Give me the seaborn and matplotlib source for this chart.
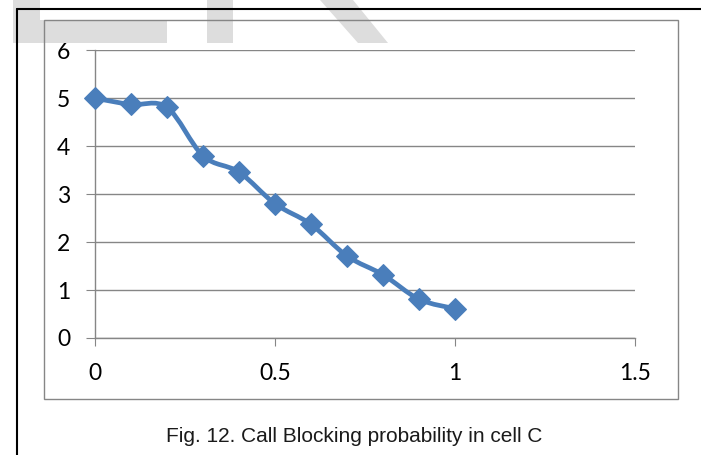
import matplotlib
matplotlib.use("Agg")
import matplotlib.pyplot as plt
import seaborn as sns
import pandas as pd
from matplotlib.patches import Polygon, Rectangle, PathPatch
from matplotlib.lines import Line2D
from matplotlib.path import Path

# Offered traffic load and measured call blocking probability (cell C)
traffic_load = [0.0, 0.1, 0.2, 0.3, 0.4, 0.5, 0.6, 0.7, 0.8, 0.9, 1.0]
blocking = [5.0, 4.87, 4.81, 3.80, 3.46, 2.80, 2.37, 1.71, 1.32, 0.81, 0.61]

x_ticks = [0, 0.5, 1, 1.5]
x_tick_labels = ["0", "0.5", "1", "1.5"]
y_ticks = [0, 1, 2, 3, 4, 5, 6]
y_tick_labels = ["0", "1", "2", "3", "4", "5", "6"]
caption = "Fig. 12. Call Blocking probability in cell C"

W, H = 701, 455
LINE_BLUE = "#4A7EBB"
GRID_GRAY = "#868686"

sns.set_theme(style="white")
plt.rcParams["font.family"] = ["Lato", "DejaVu Sans"]

fig = plt.figure(figsize=(W / 100, H / 100), dpi=100)
fig.patch.set_facecolor("white")


def fx(x):
    return x / W


def fy(y):
    return 1 - y / H


# light grey letterforms along the top edge of the page
wm = "#DDDDDD"
for pts in [
    [(13.3, 0), (40, 0), (40, 20), (167, 20), (167, 43), (13.3, 43)],
    [(206.7, 0), (233, 0), (233, 43), (206.7, 43)],
    [(320, 0), (353, 0), (388, 43), (358, 43)],
]:
    fig.patches.append(Polygon([(fx(a), fy(b)) for a, b in pts], closed=True,
                               facecolor=wm, edgecolor="none",
                               transform=fig.transFigure, zorder=0))

# page frame (top and left edges)
fig.add_artist(Line2D([fx(16.5), fx(16.5)], [0, fy(9)], color="black", lw=1.5,
                      transform=fig.transFigure, zorder=1))
fig.add_artist(Line2D([fx(16.5), 1.0], [fy(9), fy(9)], color="black", lw=1.5,
                      transform=fig.transFigure, zorder=1))

# chart area border
fig.patches.append(Rectangle((fx(43.7), fy(399)), fx(678) - fx(43.7), fy(20) - fy(399),
                             fill=False, edgecolor=GRID_GRAY, lw=1.0,
                             transform=fig.transFigure, zorder=1))

ax = fig.add_axes([fx(95), fy(338), fx(635) - fx(95), fy(50.3) - fy(338)])
ax.set_facecolor("none")


def smooth_path(xs, ys, k=1 / 6):
    """Cubic Bezier path through the points, spreadsheet-style smoothing."""
    pts = list(zip(xs, ys))
    n = len(pts)
    verts = [pts[0]]
    codes = [Path.MOVETO]
    for i in range(n - 1):
        p0 = pts[i - 1] if i > 0 else pts[i]
        p1 = pts[i]
        p2 = pts[i + 1]
        p3 = pts[i + 2] if i + 2 < n else pts[i + 1]
        c1 = (p1[0] + (p2[0] - p0[0]) * k, p1[1] + (p2[1] - p0[1]) * k)
        c2 = (p2[0] - (p3[0] - p1[0]) * k, p2[1] - (p3[1] - p1[1]) * k)
        verts += [c1, c2, p2]
        codes += [Path.CURVE4] * 3
    return Path(verts, codes)


ax.add_patch(PathPatch(smooth_path(traffic_load, blocking), fill=False,
                       edgecolor=LINE_BLUE, lw=3.4, joinstyle="round",
                       capstyle="round", clip_on=False, zorder=4))

df = pd.DataFrame({"load": traffic_load, "blocking": blocking})
sns.lineplot(data=df, x="load", y="blocking", ax=ax, color=LINE_BLUE,
             linewidth=0, marker="D", markersize=11.5,
             markerfacecolor=LINE_BLUE, markeredgecolor=LINE_BLUE,
             clip_on=False, zorder=5)

ax.set_xlim(0, 1.5)
ax.set_ylim(0, 6)
ax.set_xticks(x_ticks)
ax.set_xticklabels(x_tick_labels)
ax.set_yticks(y_ticks)
ax.set_yticklabels(y_tick_labels)
ax.set_xlabel("")
ax.set_ylabel("")

for side in ["top", "right"]:
    ax.spines[side].set_visible(False)
for side in ["left", "bottom"]:
    ax.spines[side].set_color(GRID_GRAY)
    ax.spines[side].set_linewidth(1.0)

ax.set_axisbelow(True)
ax.yaxis.grid(True, color=GRID_GRAY, linewidth=1.0)
ax.xaxis.grid(False)

ax.tick_params(axis="y", direction="out", length=6.5, width=0.8, color=GRID_GRAY,
               pad=11.5, labelsize=16.5, labelcolor="black", left=True)
ax.tick_params(axis="x", direction="out", length=5.8, width=0.8, color=GRID_GRAY,
               pad=12, labelsize=16.5, labelcolor="black", bottom=True)

fig.text(fx(354), fy(441.7), caption, ha="center", va="baseline", fontsize=15,
         family=["Liberation Sans", "DejaVu Sans"], color="#1a1a1a")

fig.savefig("out.png", dpi=100, facecolor="white")
